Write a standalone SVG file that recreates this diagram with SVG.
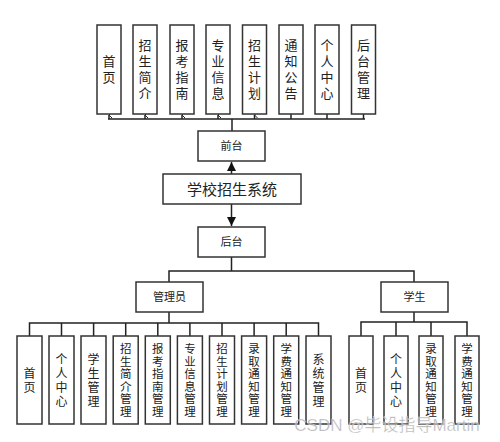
<svg xmlns="http://www.w3.org/2000/svg" width="500" height="442" viewBox="0 0 500 442">
<style>
.box{fill:#fff;stroke:#333;stroke-width:1.5}
.ln{fill:none;stroke:#222;stroke-width:1.5}
.t{font-family:"Noto Sans CJK SC","Liberation Sans",sans-serif;fill:#222;text-anchor:middle}
.vt{font-size:13px;writing-mode:vertical-rl;letter-spacing:3px}
.v6{font-size:11.5px;writing-mode:vertical-rl;letter-spacing:1px}
.v4{font-size:12px;writing-mode:vertical-rl;letter-spacing:2px}
.m{font-size:11px}
</style>
<defs>
<marker id="oa" markerWidth="8" markerHeight="8" refX="4" refY="1" orient="auto-start-reverse" markerUnits="userSpaceOnUse">
<path d="M1,4 L4,1 L7,4" fill="none" stroke="#222" stroke-width="1"/>
</marker>
</defs>
<rect width="500" height="442" fill="#fff"/>
<g id="connectors">
<path class="ln" d="M108,119 H365 M232,119 V131"/>
<path class="ln" d="M109,119 V115" marker-end="url(#oa)"/>
<path class="ln" d="M145,119 V115" marker-end="url(#oa)"/>
<path class="ln" d="M182,119 V115" marker-end="url(#oa)"/>
<path class="ln" d="M218,119 V115" marker-end="url(#oa)"/>
<path class="ln" d="M254.5,119 V115" marker-end="url(#oa)"/>
<path class="ln" d="M291,119 V114 M327,119 V114 M363.5,119 V114"/>
<line x1="231.5" y1="174" x2="231.5" y2="162" stroke="#222" stroke-width="1.5"/>
<path d="M227,171 L236,171 L231.5,162 Z" fill="#111"/>
<line x1="231.5" y1="204" x2="231.5" y2="226" stroke="#222" stroke-width="1.5"/>
<path d="M227,217 L236,217 L231.5,226 Z" fill="#111"/>
<path class="ln" d="M231.5,257 V271 M169,282 V271 H414 V282"/>
<path class="ln" d="M169,312 V323 M29.5,336 V323 H318.5 V336 M61.5,323 V336 M93.6,323 V336 M125.7,323 V336 M157.8,323 V336 M189.9,323 V336 M222,323 V336 M254.1,323 V336 M286.2,323 V336"/>
<path class="ln" d="M414,312 V322 M361,336 V322 H467 V336 M396,322 V336 M431,322 V336"/>
</g>
<g id="n-top">
<g id="t1"><rect class="box" x="97" y="25" width="24" height="89"/><text class="t vt" x="109" y="71">首页</text></g>
<g id="t2"><rect class="box" x="133" y="25" width="24" height="89"/><text class="t vt" x="145" y="71">招生简介</text></g>
<g id="t3"><rect class="box" x="170" y="25" width="24" height="89"/><text class="t vt" x="182" y="71">报考指南</text></g>
<g id="t4"><rect class="box" x="206" y="25" width="24" height="89"/><text class="t vt" x="218" y="71">专业信息</text></g>
<g id="t5"><rect class="box" x="242.5" y="25" width="24" height="89"/><text class="t vt" x="254.5" y="71">招生计划</text></g>
<g id="t6"><rect class="box" x="279" y="25" width="24" height="89"/><text class="t vt" x="291" y="71">通知公告</text></g>
<g id="t7"><rect class="box" x="315" y="25" width="24" height="89"/><text class="t vt" x="327" y="71">个人中心</text></g>
<g id="t8"><rect class="box" x="351.5" y="25" width="24" height="89"/><text class="t vt" x="363.5" y="71">后台管理</text></g>
</g>
<g id="qiantai"><rect class="box" x="198" y="131" width="67" height="30"/><text class="t m" x="231.5" y="150">前台</text></g>
<g id="system"><rect class="box" x="163" y="174" width="138" height="30"/><text class="t" font-size="15" x="232" y="195">学校招生系统</text></g>
<g id="houtai"><rect class="box" x="198" y="227" width="67" height="30"/><text class="t m" x="231.5" y="246">后台</text></g>
<g id="admin"><rect class="box" x="136" y="282" width="67" height="30"/><text class="t m" x="169.5" y="301">管理员</text></g>
<g id="student"><rect class="box" x="381" y="282" width="67" height="30"/><text class="t m" x="414.5" y="301">学生</text></g>
<g id="n-admin">
<g id="a1"><rect class="box" x="17" y="336" width="25" height="88"/><text class="t v4" x="29.5" y="381">首页</text></g>
<g id="a2"><rect class="box" x="49" y="336" width="25" height="88"/><text class="t v4" x="61.5" y="381">个人中心</text></g>
<g id="a3"><rect class="box" x="81" y="336" width="25" height="88"/><text class="t v4" x="93.6" y="381">学生管理</text></g>
<g id="a4"><rect class="box" x="113.2" y="336" width="25" height="88"/><text class="t v6" x="125.7" y="380.5">招生简介管理</text></g>
<g id="a5"><rect class="box" x="145.3" y="336" width="25" height="88"/><text class="t v6" x="157.8" y="380.5">报考指南管理</text></g>
<g id="a6"><rect class="box" x="177.4" y="336" width="25" height="88"/><text class="t v6" x="189.9" y="380.5">专业信息管理</text></g>
<g id="a7"><rect class="box" x="209.5" y="336" width="25" height="88"/><text class="t v6" x="222" y="380.5">招生计划管理</text></g>
<g id="a8"><rect class="box" x="241.6" y="336" width="25" height="88"/><text class="t v6" x="254.1" y="380.5">录取通知管理</text></g>
<g id="a9"><rect class="box" x="273.7" y="336" width="25" height="88"/><text class="t v6" x="286.2" y="380.5">学费通知管理</text></g>
<g id="a10"><rect class="box" x="306" y="336" width="25" height="88"/><text class="t v4" x="318.5" y="381">系统管理</text></g>
</g>
<g id="n-student">
<g id="s1"><rect class="box" x="349" y="336" width="24" height="88"/><text class="t v4" x="361" y="381">首页</text></g>
<g id="s2"><rect class="box" x="384" y="336" width="24" height="88"/><text class="t v4" x="396" y="381">个人中心</text></g>
<g id="s3"><rect class="box" x="419" y="336" width="24" height="88"/><text class="t v6" x="431" y="380.5">录取通知管理</text></g>
<g id="s4"><rect class="box" x="455" y="336" width="24" height="88"/><text class="t v6" x="467" y="380.5">学费通知管理</text></g>
</g>
<text x="387" y="431" font-family="'Liberation Sans','Noto Sans CJK SC',sans-serif" font-size="17" fill="#999" fill-opacity="0.75" text-anchor="middle" stroke="#fff" stroke-width="0.6" stroke-opacity="0.6">CSDN @毕设指导Martin</text>
</svg>
